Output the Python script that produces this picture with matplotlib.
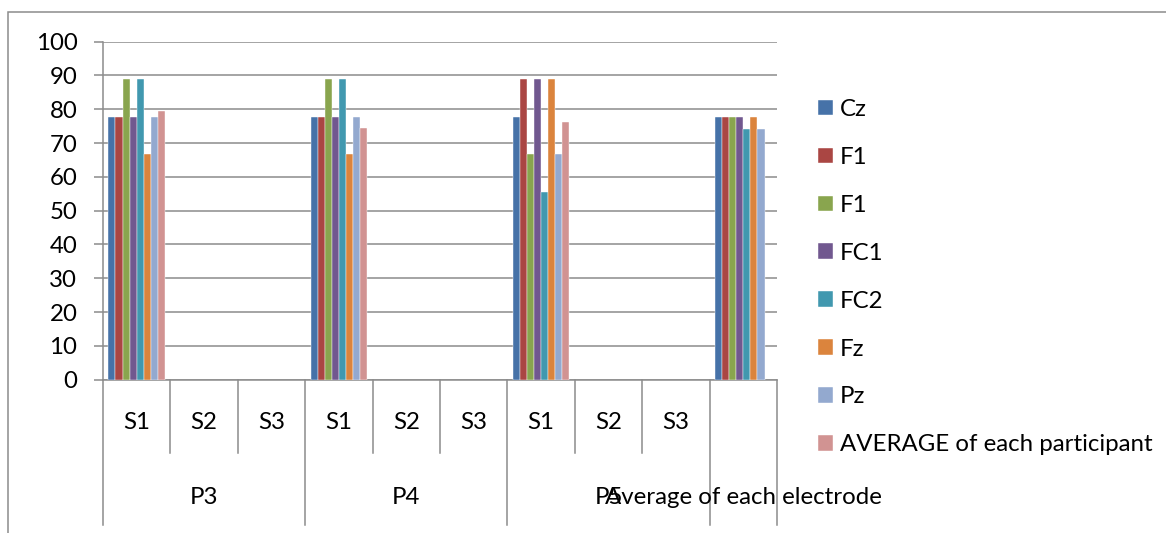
import numpy as np
import matplotlib
matplotlib.use("Agg")
import matplotlib.pyplot as plt
from matplotlib.patches import Rectangle

plt.rcParams['font.family'] = ['Lato', 'DejaVu Sans']

# x categories: three sessions per participant plus the electrode average
sessions = ['S1', 'S2', 'S3', 'S1', 'S2', 'S3', 'S1', 'S2', 'S3', '']
participants = ['P3', 'P4', 'P5', 'Average of each electrode']

series_names = ['Cz', 'F1', 'F1', 'FC1', 'FC2', 'Fz', 'Pz', 'AVERAGE of each participant']
colors = ['#4672A8', '#AA4643', '#89A54E', '#71588F', '#4198AF', '#DB843D', '#93A9CF', '#D19392']

nan = np.nan
# one row per series, one column per category (empty sessions have no bars)
cz = [77.8, nan, nan, 77.8, nan, nan, 77.8, nan, nan, 77.8]
f1a = [77.8, nan, nan, 77.8, nan, nan, 88.9, nan, nan, 77.8]
f1b = [88.9, nan, nan, 88.9, nan, nan, 66.7, nan, nan, 77.8]
fc1 = [77.8, nan, nan, 77.8, nan, nan, 88.9, nan, nan, 77.8]
fc2 = [88.9, nan, nan, 88.9, nan, nan, 55.6, nan, nan, 74.1]
fz = [66.7, nan, nan, 66.7, nan, nan, 88.9, nan, nan, 77.8]
pz = [77.8, nan, nan, 77.8, nan, nan, 66.7, nan, nan, 74.1]
avg = [79.4, nan, nan, 74.6, nan, nan, 76.2, nan, nan, nan]
values = [cz, f1a, f1b, fc1, fc2, fz, pz, avg]

W, H = 1166, 533
fig = plt.figure(figsize=(W / 100, H / 100), dpi=100)
ax = fig.add_axes([103 / W, 1 - 379.7 / H, 674 / W, 338 / H])

grey = '#8C8C8C'
fs = 17.3

x = np.arange(len(sessions)) + 0.5
bw = 0.105
for k, (name, vals, c) in enumerate(zip(series_names, values, colors)):
    ax.bar(x + (k - 3.5) * bw, vals, bw, color=c, label=name,
           edgecolor='white', linewidth=0.3, zorder=3)

ax.set_xlim(0, len(sessions))
ax.set_ylim(0, 100)
ax.set_yticks(np.arange(0, 101, 10))
ax.yaxis.grid(True, color=grey, linewidth=1.1, zorder=0)
ax.tick_params(axis='y', length=6.5, width=1.1, color=grey, pad=12, labelsize=fs)
ax.set_xticks([])
for s in ['top', 'right']:
    ax.spines[s].set_visible(False)
for s in ['left', 'bottom']:
    ax.spines[s].set_color(grey)
    ax.spines[s].set_linewidth(1.1)

# two-level category axis below the plot
tr = ax.get_xaxis_transform()
for i in range(len(sessions) + 1):
    y_end = -0.43 if i in (0, 3, 6, 9, 10) else -0.217
    ax.plot([i, i], [0, y_end], color=grey, linewidth=1.1, transform=tr, clip_on=False)
for xi, s in zip(x, sessions):
    ax.text(xi, -0.128, s, transform=tr, ha='center', va='center', fontsize=fs)
for xi, p in zip([1.5, 4.5, 7.5, 9.5], participants):
    ax.text(xi, -0.35, p, transform=tr, ha='center', va='center', fontsize=fs)

ax.legend(loc='upper left', bbox_to_anchor=(818 / W, 1 - 99 / H), bbox_transform=fig.transFigure,
          frameon=False, fontsize=fs, handlelength=0.62, handleheight=0.62,
          handletextpad=0.3, labelspacing=1.12, borderpad=0, borderaxespad=0)

# outer chart border
fig.add_artist(Rectangle((8 / W, -0.2), 1.2, 1.2 - 12 / H, transform=fig.transFigure,
                         fill=False, edgecolor=grey, linewidth=1.1))

fig.savefig('out.png', dpi=100)
